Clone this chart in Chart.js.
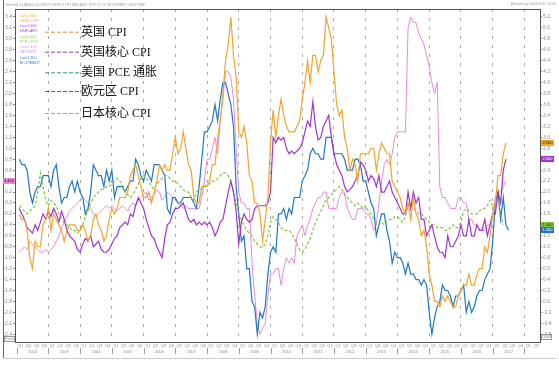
<!DOCTYPE html>
<html>
<head>
<meta charset="utf-8">
<script src="https://cdn.jsdelivr.net/npm/chart.js@4.4.0/dist/chart.umd.min.js"></script>
<style>
  html, body { margin: 0; padding: 0; background: #fff; }
  canvas { display: block; }
</style>
</head>
<body>
<canvas id="chart" width="559" height="366"></canvas>
<script>
// monthly yoy %, Jan 2002 onwards
const startYear = 2002;

const ukCpi = [
  1.6,1.5,1.5,1.3,0.8,0.6,1.1,1.0,1.0,1.4,1.5,1.7,
  1.3,1.6,1.5,1.4,1.3,1.1,1.3,1.4,1.4,1.4,1.3,1.3,
  1.4,1.3,1.1,1.2,1.5,1.6,1.4,1.3,1.1,1.2,1.5,1.7,
  1.6,1.7,1.9,1.9,1.9,2.0,2.3,2.4,2.5,2.3,2.1,1.9,
  1.9,2.0,1.8,2.0,2.2,2.5,2.4,2.5,2.4,2.4,2.7,3.0,
  2.7,2.8,3.1,2.8,2.5,2.4,1.9,1.8,1.8,2.1,2.1,2.1,
  2.2,2.5,2.5,3.0,3.3,3.8,4.4,4.7,5.2,4.5,4.1,3.1,
  3.0,3.2,2.9,2.3,2.2,1.8,1.8,1.6,1.1,1.5,1.9,2.9,
  3.5,3.0,3.4,3.7,3.4,3.2,3.1,3.1,3.1,3.2,3.3,3.7,
  4.0,4.4,4.0,4.5,4.5,4.2,4.4,4.5,5.2,5.0,4.8,4.2,
  3.6,3.4,3.5,3.0,2.8,2.4,2.6,2.5,2.2,2.7,2.7,2.7,
  2.7,2.8,2.8,2.4,2.7,2.9,2.8,2.7,2.7,2.2,2.1,2.0,
  1.9,1.7,1.6,1.8,1.5,1.9,1.6,1.5,1.2,1.3,1.0,0.5,
  0.3,0.0,0.0,-0.1,0.1,0.0,0.1,0.0,-0.1,-0.1,0.1,0.2,
  0.3,0.3,0.5,0.3,0.3,0.5,0.6,0.6,1.0,0.9,1.2,1.6,
  1.8,2.3,2.3,2.7,2.9
];

const ukCore = [
  1.7,1.6,1.5,1.35,1.3,1.25,1.4,1.3,1.45,1.6,1.5,1.65,
  1.55,1.7,1.6,1.45,1.65,1.5,1.3,1.2,1.15,1.1,0.95,0.9,
  1.05,1.15,1.1,1.2,1.0,1.05,1.1,0.95,0.9,0.9,0.95,1.05,
  1.15,1.2,1.35,1.4,1.45,1.4,1.6,1.55,1.75,1.9,1.8,1.7,
  1.5,1.35,1.2,1.15,1.0,0.9,0.8,1.15,1.4,1.45,1.6,1.7,
  1.7,1.75,1.8,1.65,1.5,1.45,1.5,1.4,1.45,1.4,1.45,1.4,
  1.45,1.35,1.2,1.3,1.45,1.5,1.75,2.0,2.2,2.0,1.65,1.05,
  1.45,1.6,1.5,1.45,1.5,1.7,1.75,1.75,1.75,1.75,1.8,2.0,
  3.0,2.9,3.0,2.95,3.0,2.8,2.7,2.75,2.7,2.75,2.8,2.9,
  3.1,3.3,3.2,3.65,3.2,2.95,3.0,3.2,3.3,3.4,3.0,2.7,
  2.5,2.4,2.3,2.1,2.0,2.05,2.1,2.2,2.3,2.55,2.5,2.4,
  2.2,2.3,2.25,2.1,2.3,2.0,2.0,2.1,2.2,2.0,1.9,1.8,
  1.7,1.6,1.6,2.0,1.7,2.0,1.8,1.9,1.5,1.5,1.2,1.3,
  1.4,1.2,1.0,0.9,0.9,0.8,1.2,1.0,1.0,1.1,1.2,1.4,
  1.2,1.2,1.5,1.2,1.2,1.4,1.3,1.3,1.5,1.2,1.4,1.6,
  1.6,2.0,1.8,2.4,2.6
];

const usPce = [
  1.75,1.7,1.65,1.6,1.65,1.7,1.75,2.0,2.35,2.1,1.85,1.75,
  1.85,1.8,1.75,1.6,1.5,1.45,1.4,1.35,1.3,1.3,1.25,1.3,
  1.4,1.55,1.65,1.8,1.9,1.95,2.0,2.05,2.05,2.1,2.1,2.15,
  2.2,2.25,2.2,2.15,2.0,1.95,1.9,1.95,2.05,2.15,2.25,2.3,
  2.25,2.2,2.1,2.05,2.15,2.2,2.25,2.3,2.3,2.25,2.2,2.2,
  2.15,2.1,2.05,2.0,2.0,1.9,1.85,2.0,2.05,2.05,2.1,2.15,
  2.15,2.2,2.2,2.25,2.3,2.35,2.35,2.3,2.2,2.0,1.8,1.6,
  1.5,1.4,1.3,1.25,1.2,1.1,1.05,1.0,0.98,1.05,1.2,1.45,
  1.55,1.5,1.45,1.35,1.3,1.3,1.3,1.25,1.15,1.05,0.95,0.9,
  0.95,1.05,1.15,1.3,1.45,1.55,1.65,1.75,1.85,1.9,1.95,2.0,
  2.05,2.1,2.05,1.95,1.9,1.85,1.8,1.75,1.8,1.75,1.7,1.75,
  1.65,1.6,1.5,1.45,1.4,1.45,1.4,1.45,1.5,1.5,1.55,1.55,
  1.5,1.45,1.55,1.75,1.8,1.7,1.65,1.6,1.6,1.55,1.5,1.45,
  1.4,1.4,1.35,1.35,1.35,1.3,1.3,1.35,1.4,1.35,1.35,1.45,
  1.65,1.7,1.65,1.6,1.6,1.6,1.65,1.7,1.7,1.75,1.85,1.75,
  1.8,1.85,1.6,1.4
];

const euCpi = [
  2.6,2.5,2.5,2.4,2.0,1.8,2.0,2.1,2.1,2.3,2.3,2.3,
  2.1,2.4,2.5,2.1,1.8,1.9,1.9,2.1,2.2,2.0,2.2,2.0,
  1.9,1.6,1.7,2.0,2.5,2.4,2.3,2.3,2.1,2.4,2.2,2.4,
  1.9,2.1,2.1,2.1,2.0,2.1,2.2,2.2,2.6,2.5,2.3,2.2,
  2.4,2.3,2.2,2.5,2.5,2.5,2.4,2.3,1.7,1.6,1.9,1.9,
  1.8,1.8,1.9,1.9,1.9,1.9,1.8,1.7,2.1,2.6,3.1,3.1,
  3.2,3.3,3.6,3.3,3.7,4.0,4.0,3.8,3.6,3.2,2.1,1.6,
  1.1,1.2,0.6,0.6,0.0,-0.1,-0.6,-0.2,-0.3,-0.1,0.5,0.9,
  1.0,0.9,1.6,1.6,1.7,1.5,1.7,1.6,1.9,1.9,1.9,2.2,
  2.3,2.4,2.7,2.8,2.7,2.7,2.6,2.6,3.0,3.0,3.0,2.7,
  2.7,2.7,2.7,2.6,2.4,2.4,2.4,2.6,2.6,2.5,2.2,2.2,
  2.0,1.8,1.7,1.2,1.4,1.6,1.6,1.3,1.1,0.7,0.9,0.8,
  0.8,0.7,0.5,0.7,0.5,0.5,0.4,0.4,0.3,0.4,0.3,-0.2,
  -0.6,-0.3,-0.1,0.0,0.3,0.2,0.2,0.1,-0.1,0.1,0.1,0.2,
  0.3,-0.2,0.0,-0.2,-0.1,0.1,0.2,0.2,0.4,0.5,0.6,1.1,
  1.8,2.0,1.5,1.9,1.4,1.3
];

// Japan core CPI, read on the left axis
const jpCore = [
  -0.9,-0.85,-0.8,-0.85,-0.7,-0.75,-0.8,-0.85,-0.9,-0.9,-0.85,-0.9,
  -0.85,-0.8,-0.7,-0.6,-0.45,-0.35,-0.25,-0.15,-0.1,-0.05,0.0,0.05,
  0.1,0.05,0.0,-0.1,-0.2,-0.25,-0.2,-0.15,-0.1,-0.05,-0.1,-0.05,
  -0.1,-0.15,-0.1,-0.05,-0.1,-0.15,-0.05,0.0,-0.05,0.05,0.1,0.15,
  0.2,0.05,0.1,0.15,0.25,0.2,0.05,0.1,0.2,0.15,0.1,0.05,
  0.0,-0.05,-0.1,-0.05,-0.1,-0.1,-0.1,-0.1,-0.1,0.1,0.4,0.8,
  0.8,1.0,1.2,0.9,1.5,1.9,2.4,2.4,2.3,1.9,1.0,0.2,
  0.0,0.0,-0.1,-0.1,-1.1,-1.7,-2.2,-2.4,-2.3,-2.2,-1.7,-1.3,
  -1.3,-1.2,-1.2,-1.5,-1.2,-1.0,-1.1,-1.0,-1.1,-0.6,-0.5,-0.4,
  -0.6,-0.4,-0.3,-0.1,0.0,0.1,0.1,0.2,0.2,-0.1,-0.1,-0.1,
  -0.1,0.1,0.2,0.2,-0.1,-0.2,-0.3,-0.3,-0.1,-0.1,-0.1,-0.2,
  -0.2,-0.3,-0.5,-0.4,0.0,0.4,0.7,0.8,0.7,0.9,1.2,1.3,
  1.3,1.3,1.3,3.2,3.4,3.3,3.3,3.1,3.0,2.9,2.7,2.5,
  2.2,2.0,2.2,0.3,0.1,0.1,0.0,-0.1,-0.1,-0.1,0.1,0.1,
  0.0,0.0,-0.3,-0.3,-0.4,-0.4,-0.5,-0.5,-0.5,-0.4,-0.4,-0.2,
  0.1,0.2,0.2,0.3,0.4
];

const seriesNames = ['英国 CPI', '英国核心 CPI', '美国 PCE 通胀', '欧元区 CPI', '日本核心 CPI'];
const tickers = ['UKRPCJYR', 'UKHCA9IY', 'PCE CYOY', 'ECCPEMUY', 'JNCPIXFF'];
const yearLabels = ['2002','2003','2004','2005','2006','2007','2008','2009','2010',
                    '2011','2012','2013','2014','2015','2016','2017','2018'];
const quarterLabels = ['Q1', 'Q2', 'Q3', 'Q4'];

// month i -> fractional year (end of month)
const pts = arr => arr.map((v, i) => ({ x: startYear + (i + 1) / 12, y: v }));

const colors = ['#f0a52c', '#a234cc', '#84c43c', '#1f78c2', '#e68ad8'];
const legendColors = ['#d98b2b', '#8b3fb6', '#2f9b70', '#2a6c8e', '#e07fd6'];

const tinyFont = '"Liberation Sans", Arial, sans-serif';

const decor = {
  id: 'decor',
  afterDraw(chart) {
    const { ctx, chartArea: a, scales } = chart;
    const x = scales.x, yL = scales.yL, yR = scales.yR;
    ctx.save();

    // outer frame
    ctx.strokeStyle = '#666'; ctx.lineWidth = 1;
    ctx.beginPath(); ctx.moveTo(3.5, 0); ctx.lineTo(3.5, 358.5); ctx.stroke();
    ctx.strokeStyle = '#ccc';
    ctx.beginPath(); ctx.moveTo(3, 358.5); ctx.lineTo(557, 358.5); ctx.stroke();

    // plot frame
    ctx.strokeStyle = '#555';
    ctx.strokeRect(a.left + 0.5, a.top + 0.5, a.right - a.left, a.bottom - a.top);

    // header texts
    ctx.fillStyle = '#9a9a9a';
    ctx.font = '3.5px ' + tinyFont;
    ctx.textBaseline = 'middle';
    ctx.textAlign = 'left';
    ctx.fillText('Monthly 31JAN02-30JUN17 ' + tickers.join(' '), 6, 5);
    ctx.textAlign = 'right';
    ctx.fillText('Bloomberg 16/06/2017 16:42', 556, 4);

    // tiny bloomberg legend
    const lastOf = arr => arr[arr.length - 1].toFixed(3);
    const tinyOrder = [[ukCpi, 0], [ukCore, 1], [usPce, 2], [jpCore, 4], [euCpi, 3]];
    ctx.textAlign = 'left';
    tinyOrder.forEach(([arr, k], i) => {
      ctx.fillStyle = colors[k];
      ctx.fillText('Last ' + lastOf(arr), 20, 16 + i * 10.4);
      ctx.fillText(tickers[k], 20, 21 + i * 10.4);
    });

    // chinese legend
    const rowsY = [31.7, 51.7, 72.3, 91, 113];
    rowsY.forEach((ry, k) => {
      ctx.strokeStyle = legendColors[k];
      ctx.lineWidth = 1;
      ctx.setLineDash([4, 2]);
      ctx.beginPath(); ctx.moveTo(45, ry + 0.5); ctx.lineTo(80, ry + 0.5); ctx.stroke();
      ctx.setLineDash([]);
      ctx.fillStyle = '#111';
      ctx.font = '12px "Liberation Serif", "Noto Sans CJK SC", serif';
      ctx.textAlign = 'left';
      ctx.fillText(seriesNames[k], 81, ry + 1);
    });

    // last value tags
    ctx.font = '4px ' + tinyFont;
    ctx.textAlign = 'center';
    const tags = [[ukCpi, 0, '#2b2000'], [ukCore, 1, '#fff'], [usPce, 2, '#1b3300'], [euCpi, 3, '#fff']];
    tags.forEach(([arr, k, fg]) => {
      const ty = Math.round(yR.getPixelForValue(arr[arr.length - 1]));
      ctx.fillStyle = colors[k];
      ctx.fillRect(541, ty - 3, 13, 6);
      ctx.fillStyle = fg;
      ctx.fillText(lastOf(arr), 547.5, ty);
    });
    const jy = Math.round(yL.getPixelForValue(jpCore[jpCore.length - 1]));
    ctx.fillStyle = colors[4];
    ctx.fillRect(3, jy - 3, 12, 6);
    ctx.fillStyle = '#3a0030';
    ctx.fillText(lastOf(jpCore), 9, jy);

    // x axis labels: quarters and years
    ctx.fillStyle = '#8a8a8a';
    ctx.strokeStyle = '#9a9a9a';
    yearLabels.forEach((yl, i) => {
      const yr = startYear + i;
      quarterLabels.forEach((q, j) => {
        const px = x.getPixelForValue(yr + j * 0.25 + 0.125);
        if (px > a.left + 1 && px < a.right - 1) ctx.fillText(q, px, 345.5);
      });
      const cx = x.getPixelForValue(yr + 0.5);
      if (cx < a.right - 4) ctx.fillText(yl, cx, 351.5);
      const bx = Math.round(x.getPixelForValue(yr)) + 0.5;
      if (bx > a.left + 2 && bx < a.right) {
        ctx.beginPath(); ctx.moveTo(bx, 348); ctx.lineTo(bx, 354); ctx.stroke();
      }
    });

    // date boxes
    ctx.strokeStyle = '#999';
    ctx.strokeRect(4.5, 336.5, 10, 5);
    ctx.strokeRect(541.5, 334.5, 10, 5);
    ctx.fillStyle = '#888';
    ctx.fillText('Date', 9.5, 339);
    ctx.fillText('Date', 546.5, 337);

    ctx.restore();
  }
};

const lineDs = (k, data, axis, extra) => Object.assign({
  label: seriesNames[k],
  data: pts(data),
  yAxisID: axis,
  borderColor: colors[k],
  borderWidth: 1.2,
  pointRadius: 0,
  fill: false,
  tension: 0
}, extra || {});

const tickFmt = v => (Math.abs(v) < 1e-9 ? 0 : v).toFixed(1);

new Chart(document.getElementById('chart'), {
  type: 'line',
  data: {
    datasets: [
      lineDs(0, ukCpi, 'yR'),
      lineDs(1, ukCore, 'yR'),
      lineDs(2, usPce, 'yR', { borderDash: [3, 2] }),
      lineDs(3, euCpi, 'yR'),
      lineDs(4, jpCore, 'yL', { borderWidth: 1 })
    ]
  },
  options: {
    responsive: false,
    animation: false,
    devicePixelRatio: 1,
    layout: { autoPadding: false, padding: { top: 9, left: 0, right: 0, bottom: 0 } },
    plugins: { legend: { display: false }, tooltip: { enabled: false } },
    scales: {
      x: {
        type: 'linear',
        min: 2001.95,
        max: 2018.49,
        ticks: { display: false, stepSize: 1, includeBounds: false },
        grid: {
          drawTicks: false,
          color: c => (c.tick && c.tick.value > 2002.5 ? '#a9a9a9' : 'rgba(0,0,0,0)')
        },
        border: { display: false, dash: [3, 6] },
        afterFit: s => { s.height = 24; }
      },
      yL: {
        position: 'left',
        min: -2.541,
        max: 3.546,
        ticks: {
          stepSize: 0.2, includeBounds: false, padding: 1,
          color: '#8a8a8a', font: { size: 5, family: tinyFont },
          callback: tickFmt
        },
        grid: { drawOnChartArea: false, tickLength: 2, color: '#888' },
        border: { display: false },
        afterFit: s => { s.width = 15; }
      },
      yR: {
        position: 'right',
        min: -0.741,
        max: 5.346,
        ticks: {
          stepSize: 0.2, includeBounds: false, padding: 1,
          color: '#8a8a8a', font: { size: 5, family: tinyFont },
          callback: tickFmt
        },
        grid: { drawOnChartArea: false, tickLength: 2, color: '#888' },
        border: { display: false },
        afterFit: s => { s.width = 19; }
      }
    }
  },
  plugins: [decor]
});
</script>
</body>
</html>
